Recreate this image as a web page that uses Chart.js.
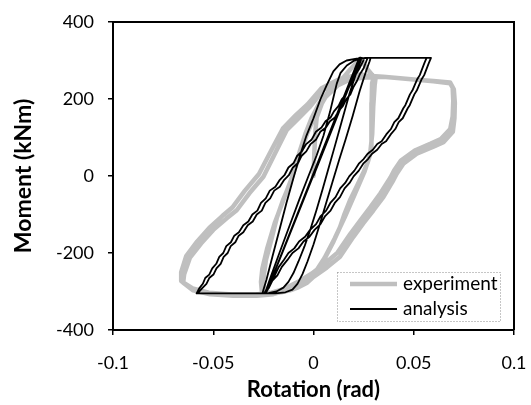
<!DOCTYPE html>
<html><head><meta charset="utf-8">
<script src="https://cdn.jsdelivr.net/npm/chart.js@4.4.0/dist/chart.umd.min.js"></script>
<style>html,body{margin:0;padding:0;background:#fff;}#wrap{width:531px;height:405px;position:relative;}</style>
</head><body><div id="wrap"><canvas id="c" width="531" height="405"></canvas></div>
<script>
// ---- axis ticks ----
const xTicks = [-0.1, -0.05, 0, 0.05, 0.1];
const yTicks = [-400, -200, 0, 200, 400];
const xTitle = 'Rotation (rad)';
const yTitle = 'Moment (kNm)';
const seriesNames = ['experiment', 'analysis'];

// ---- experiment (rotation rad, moment kNm) ----
const expInitial = [[0,0],[0.0004,60],[0.0010,120],[0.0016,152],[0.0050,200],[0.0090,225],[0.0132,245],[0.0185,278],[0.0233,305],[0.0265,280],[0.0300,258]];
const expCycle1 = [[0.0292,240],[0.0290,190],[0.0290,120],[0.0288,67],[0.0270,35],[0.0247,7],[0.0215,-28],[0.0182,-63],[0.0155,-98],[0.0132,-133],[0.0100,-170],[0.0065,-205],[0.0032,-240],[0.0,-262],[-0.0034,-278],[-0.0080,-290],[-0.0117,-297],[-0.0170,-303],[-0.0217,-304],[-0.0245,-297],[-0.0252,-280],[-0.0247,-255],[-0.0237,-218],[-0.0210,-165],[-0.0182,-107],[-0.0150,-60],[-0.0117,-19],[-0.0090,25],[-0.0067,67],[-0.0040,110],[-0.0010,150],[0.0030,190],[0.0080,222],[0.0140,242],[0.0200,252],[0.0260,256],[0.0310,256]];
const expCycle2 = [[0.0305,235],[0.0298,180],[0.0293,110],[0.0282,55],[0.0255,12],[0.0205,-48],[0.0155,-108],[0.0105,-163],[0.0055,-213],[0.0005,-253],[-0.0045,-279],[-0.0100,-294],[-0.0160,-302],[-0.0220,-305],[-0.0258,-298],[-0.0262,-275],[-0.0255,-240],[-0.0232,-190],[-0.0192,-120],[-0.0152,-65],[-0.0112,-10],[-0.0072,50],[-0.0032,110],[0.0010,160],[0.0060,205],[0.0120,235],[0.0180,250],[0.0260,257],[0.0348,258]];
const expOuter1 = [[0.0432,254],[0.0515,250],[0.0598,247],[0.0681,243],[0.0700,225],[0.0705,190],[0.0703,150],[0.0695,115],[0.0648,88],[0.0598,76],[0.0515,58],[0.0448,32],[0.0415,6],[0.0398,-11],[0.0349,-54],[0.0299,-89],[0.0248,-123],[0.0199,-158],[0.0132,-210],[0.0066,-238],[0.0,-262],[-0.0067,-282],[-0.0134,-298],[-0.0200,-307],[-0.0283,-311],[-0.0400,-311],[-0.0516,-307],[-0.0600,-297],[-0.0650,-277],[-0.0645,-255],[-0.0616,-212],[-0.0560,-175],[-0.0500,-140],[-0.0433,-110],[-0.0383,-89],[-0.0320,-45],[-0.0250,-2],[-0.0184,67],[-0.0134,119],[-0.0070,152],[-0.0017,180],[0.0049,223],[0.0132,249],[0.0232,262],[0.0348,258],[0.0432,254],[0.0515,250],[0.0598,246],[0.0681,241]];
const expOuter2 = [[0.0694,230],[0.0697,195],[0.0694,155],[0.0682,122],[0.0635,96],[0.0585,84],[0.0505,66],[0.0436,40],[0.0402,14],[0.0384,-4],[0.0334,-45],[0.0284,-81],[0.0234,-115],[0.0184,-150],[0.0120,-199],[0.0055,-228],[-0.0010,-254],[-0.0077,-275],[-0.0145,-293],[-0.0210,-303],[-0.0290,-308],[-0.0405,-308],[-0.0522,-303],[-0.0603,-292],[-0.0660,-273],[-0.0660,-250],[-0.0635,-208],[-0.0580,-170],[-0.0520,-135],[-0.0455,-104],[-0.0405,-82],[-0.0342,-38],[-0.0272,5],[-0.0205,72],[-0.0152,124],[-0.0088,158],[-0.0030,186],[0.0040,228],[0.0130,252],[0.0240,265]];

// ---- analysis (rotation rad, moment kNm) ----
const anaInitial = [[0,0],[0.0235,307],[-0.0237,-305],[0.0228,307]];
const anaCycle1 = [[0.0240,307],[0.0235,298],[0.0215,270],[0.0180,215],[0.0140,140],[0.0105,75],[0.0075,20],[0.0045,-35],[0.0015,-88],[-0.0015,-138],[-0.0045,-183],[-0.0075,-222],[-0.0100,-252],[-0.0125,-275],[-0.0150,-290],[-0.0185,-300],[-0.0225,-304],[-0.0255,-305],[-0.0250,-296],[-0.0235,-270],[-0.0205,-210],[-0.0170,-140],[-0.0135,-70],[-0.0100,-5],[-0.0067,54],[-0.0035,105],[0.0000,150],[0.0035,200],[0.0066,236],[0.0099,272],[0.0130,290],[0.0165,300],[0.0215,305],[0.0260,307]];
const anaCycle2 = [[0.0285,307],[0.0280,298],[0.0262,272],[0.0230,220],[0.0195,155],[0.0160,95],[0.0127,40],[0.0095,-15],[0.0062,-72],[0.0030,-128],[0.0000,-178],[-0.0030,-222],[-0.0055,-255],[-0.0080,-280],[-0.0105,-295],[-0.0140,-302],[-0.0190,-305],[-0.0240,-305],[-0.0232,-290],[-0.0212,-260],[-0.0170,-200],[-0.0120,-130],[-0.0070,-60],[-0.0025,0],[0.0016,54],[0.0050,105],[0.0082,166],[0.0100,205],[0.0116,240],[0.0135,268],[0.0166,287],[0.0200,299],[0.0233,305],[0.0270,307]];
const anaUnload1 = [[0.0586,307],[0.0575,293],[0.0552,262],[0.0540,252],[0.0515,222],[0.0503,212],[0.0480,184],[0.0470,176],[0.0445,150],[0.0425,140],[0.0408,122],[0.0385,108],[0.0362,90],[0.0340,83],[0.0318,68],[0.0292,58],[0.0272,44],[0.0248,32],[0.0226,14],[0.0200,-1],[0.0180,-18],[0.0155,-32],[0.0132,-55],[0.0106,-70],[0.0085,-90],[0.0058,-104],[0.0035,-125],[0.0005,-140],[-0.0020,-158],[-0.0050,-170],[-0.0075,-188],[-0.0105,-200],[-0.0130,-218],[-0.0158,-236],[-0.0180,-258],[-0.0205,-272],[-0.0222,-290],[-0.0243,-305]];
const anaReload1 = [[-0.0583,-305],[-0.0570,-292],[-0.0552,-280],[-0.0540,-265],[-0.0520,-256],[-0.0505,-240],[-0.0485,-228],[-0.0470,-210],[-0.0450,-200],[-0.0435,-182],[-0.0412,-172],[-0.0395,-155],[-0.0372,-146],[-0.0350,-128],[-0.0325,-118],[-0.0305,-100],[-0.0280,-90],[-0.0262,-70],[-0.0238,-58],[-0.0218,-38],[-0.0190,-28],[-0.0168,-10],[-0.0145,2],[-0.0125,22],[-0.0100,33],[-0.0082,52],[-0.0058,64],[-0.0038,82],[-0.0010,94],[0.0012,115],[0.0040,126],[0.0060,142],[0.0085,152],[0.0102,168],[0.0125,182],[0.0142,200],[0.0162,212],[0.0178,232],[0.0198,248],[0.0212,265],[0.0230,280],[0.0245,296],[0.0255,307]];
const anaUnload2 = [[0.0564,307],[0.0553,293],[0.0530,262],[0.0518,252],[0.0493,222],[0.0481,212],[0.0458,184],[0.0448,176],[0.0423,150],[0.0403,140],[0.0386,122],[0.0363,108],[0.0340,90],[0.0318,83],[0.0296,68],[0.0270,58],[0.0250,44],[0.0226,32],[0.0204,14],[0.0178,-1],[0.0158,-18],[0.0133,-32],[0.0110,-55],[0.0084,-70],[0.0063,-90],[0.0036,-104],[0.0013,-125],[-0.0017,-140],[-0.0042,-158],[-0.0072,-170],[-0.0096,-188],[-0.0125,-200],[-0.0148,-218],[-0.0173,-236],[-0.0193,-258],[-0.0215,-272],[-0.0230,-290],[-0.0246,-305]];
const anaReload2 = [[-0.0578,-305],[-0.0556,-292],[-0.0534,-280],[-0.0520,-265],[-0.0499,-256],[-0.0484,-240],[-0.0463,-228],[-0.0448,-210],[-0.0428,-200],[-0.0413,-182],[-0.0390,-172],[-0.0373,-155],[-0.0350,-146],[-0.0328,-128],[-0.0303,-118],[-0.0283,-100],[-0.0258,-90],[-0.0240,-70],[-0.0216,-58],[-0.0196,-38],[-0.0168,-28],[-0.0146,-10],[-0.0123,2],[-0.0103,22],[-0.0078,33],[-0.0060,52],[-0.0036,64],[-0.0016,82],[0.0012,94],[0.0034,115],[0.0062,126],[0.0082,142],[0.0107,152],[0.0124,168],[0.0147,182],[0.0164,200],[0.0184,212],[0.0200,232],[0.0218,248],[0.0232,265],[0.0250,280],[0.0262,296],[0.0270,307]];

const experiment = [].concat(expInitial, expCycle1, expCycle2, expOuter1, expOuter2);
const analysis = [].concat(anaInitial, anaCycle1, anaCycle2, anaUnload1, anaReload1, anaUnload2, anaReload2);
const toXY = arr => arr.map(p => ({x: p[0], y: p[1]}));

const FONT = 'Lato, "Open Sans", sans-serif';
const GREY = '#bfbfbf';

const framePlugin = {
  id: 'frameLegend',
  afterDraw(chart) {
    const ctx = chart.ctx, a = chart.chartArea;
    ctx.save();
    ctx.strokeStyle = '#000'; ctx.lineWidth = 2;
    ctx.beginPath(); ctx.moveTo(a.left, a.top); ctx.lineTo(a.right, a.top); ctx.lineTo(a.right, a.bottom); ctx.stroke();
    // legend box
    const bx = 337.5, by = 272.5, bw = 163, bh = 49;
    ctx.fillStyle = '#fff'; ctx.fillRect(bx, by, bw, bh);
    ctx.setLineDash([1, 2]); ctx.strokeStyle = '#8c8c8c'; ctx.lineWidth = 1;
    ctx.strokeRect(bx, by, bw, bh);
    ctx.setLineDash([]);
    const ds = chart.data.datasets;
    const rows = [284, 309];
    ctx.font = '19px ' + FONT; ctx.textBaseline = 'middle'; ctx.fillStyle = '#000';
    seriesNames.forEach((name, i) => {
      const d = ds.find(s => s.label === name);
      ctx.strokeStyle = d.borderColor; ctx.lineWidth = d.borderWidth;
      ctx.beginPath(); ctx.moveTo(350, rows[i]); ctx.lineTo(397, rows[i]); ctx.stroke();
      ctx.fillText(name, 403, rows[i]);
    });
    ctx.restore();
  }
};

new Chart(document.getElementById('c'), {
  type: 'scatter',
  data: {
    datasets: [
      {label: seriesNames[0], data: toXY(experiment), showLine: true, borderColor: GREY, backgroundColor: GREY, borderWidth: 4.5, pointRadius: 0, tension: 0, borderJoinStyle: 'round', borderCapStyle: 'round', order: 2},
      {label: seriesNames[1], data: toXY(analysis), showLine: true, borderColor: '#000', backgroundColor: '#000', borderWidth: 1.8, pointRadius: 0, tension: 0, borderJoinStyle: 'round', order: 1}
    ]
  },
  options: {
    responsive: false, animation: false, devicePixelRatio: 1,
    layout: {padding: {top: 22, right: 17, left: 0, bottom: 0}},
    plugins: {legend: {display: false}, tooltip: {enabled: false}},
    scales: {
      x: {
        type: 'linear', min: -0.1, max: 0.1,
        afterBuildTicks: s => { s.ticks = xTicks.map(v => ({value: v})); },
        afterFit: s => { s.height = 75; s.paddingLeft = 0; s.paddingRight = 0; },
        grid: {display: true, drawOnChartArea: false, drawTicks: true, tickLength: 5, color: '#000', lineWidth: 1.5},
        border: {display: true, color: '#000', width: 2},
        ticks: {font: {family: FONT, size: 18}, color: '#000', padding: 17, maxRotation: 0, callback: v => String(v)},
        title: {display: true, text: xTitle, font: {family: FONT, size: 22, weight: 'bold'}, color: '#000', padding: {top: 0, bottom: 2}}
      },
      y: {
        type: 'linear', min: -400, max: 400,
        afterBuildTicks: s => { s.ticks = yTicks.map(v => ({value: v})); },
        afterFit: s => { s.width = 113; s.paddingTop = 0; s.paddingBottom = 0; },
        grid: {display: true, drawOnChartArea: false, drawTicks: true, tickLength: 5, color: '#000', lineWidth: 1.5},
        border: {display: true, color: '#000', width: 2},
        ticks: {font: {family: FONT, size: 18}, color: '#000', padding: 14, callback: v => String(v)},
        title: {display: true, text: yTitle, font: {family: FONT, size: 23, weight: 'bold'}, color: '#000', padding: {top: 10, bottom: 0}}
      }
    }
  },
  plugins: [framePlugin]
});
</script></body></html>
